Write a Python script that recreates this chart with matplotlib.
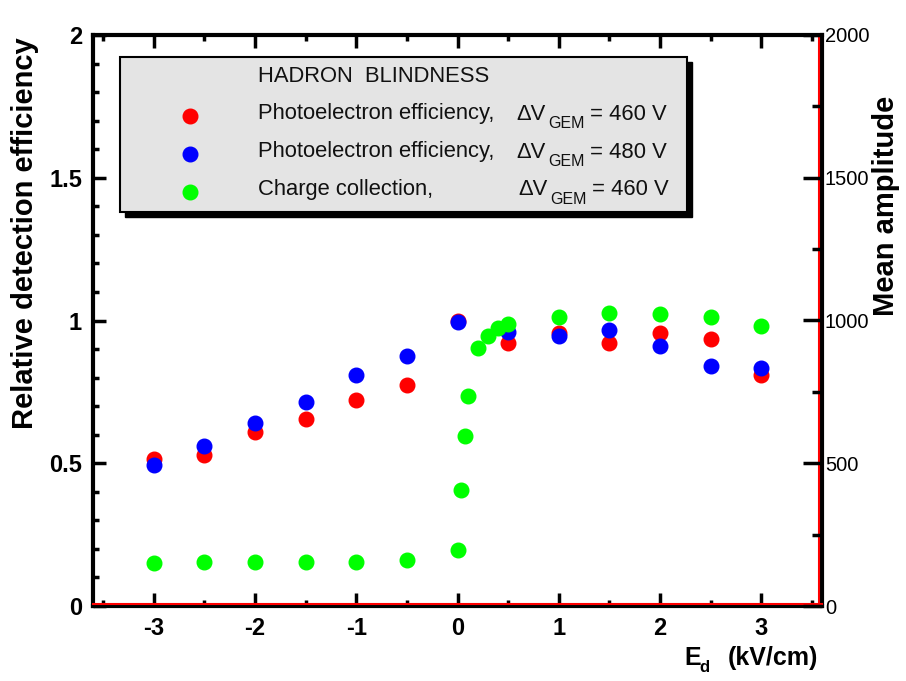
import matplotlib
matplotlib.use("Agg")
import matplotlib.pyplot as plt
from matplotlib.patches import Rectangle
from matplotlib.ticker import MultipleLocator, FixedLocator
from matplotlib import font_manager

fams = {f.name for f in font_manager.fontManager.ttflist}
NARROW = 'Liberation Sans Narrow' if 'Liberation Sans Narrow' in fams else 'Liberation Sans'
SANS = 'Liberation Sans'

# ---------------- data ----------------
ed_pe = [-3, -2.5, -2, -1.5, -1, -0.5, 0, 0.5, 1, 1.5, 2, 2.5, 3]
eff_460 = [0.515, 0.53, 0.61, 0.655, 0.72, 0.775, 1.0, 0.92, 0.955, 0.92, 0.955, 0.935, 0.81]
eff_480 = [0.495, 0.56, 0.64, 0.715, 0.81, 0.875, 0.995, 0.96, 0.945, 0.965, 0.91, 0.84, 0.835]

ed_cc = [-3, -2.5, -2, -1.5, -1, -0.5, 0, 0.03, 0.07, 0.1, 0.2, 0.3, 0.4, 0.5, 1, 1.5, 2, 2.5, 3]
amp_460 = [152, 155, 155, 155, 155, 160, 195, 405, 595, 735, 905, 945, 972, 988, 1013, 1025, 1023, 1011, 980]

legend_title = "HADRON  BLINDNESS"
legend_names = ["Photoelectron efficiency,", "Photoelectron efficiency,", "Charge collection,"]
legend_dv = ["= 460 V", "= 480 V", "= 460 V"]
colors = ["#ff0000", "#0000ff", "#00ff00"]

W, H = 906, 681
fig = plt.figure(figsize=(W / 100, H / 100), dpi=100)
L, R, T, B = 93, 822, 35, 606
ax = fig.add_axes([L / W, 1 - B / H, (R - L) / W, (B - T) / H])
ax2 = ax.twinx()

ms = 10.5
ax.plot(ed_pe, eff_460, 'o', color=colors[0], ms=ms, mec=colors[0], zorder=3)
ax.plot(ed_pe, eff_480, 'o', color=colors[1], ms=ms, mec=colors[1], zorder=4)
ax2.plot(ed_cc, amp_460, 'o', color=colors[2], ms=ms, mec=colors[2], zorder=5)

ax.set_xlim(-3.6, 3.6)
ax.set_ylim(0, 2)
ax2.set_ylim(0, 2000)

ax.xaxis.set_major_locator(MultipleLocator(1))
ax.xaxis.set_minor_locator(FixedLocator([-3.5, -2.5, -1.5, -0.5, 0.5, 1.5, 2.5, 3.5]))
ax.yaxis.set_major_locator(MultipleLocator(0.5))
ax.yaxis.set_minor_locator(MultipleLocator(0.1))
ax2.yaxis.set_major_locator(MultipleLocator(500))
ax2.yaxis.set_minor_locator(MultipleLocator(250))

ax.tick_params(axis='both', which='major', direction='in', length=9.5, width=2.5,
               top=True, right=False, labelsize=17, pad=8)
ax.tick_params(axis='both', which='minor', direction='in', length=4.5, width=2.5,
               top=True, right=False)
ax2.tick_params(axis='y', which='major', direction='in', length=14, width=2.5,
                labelsize=14.5, pad=2)
ax2.tick_params(axis='y', which='minor', direction='in', length=7, width=2.5)

ax.set_xticks([-3, -2, -1, 0, 1, 2, 3])
ax.set_xticklabels(['-3', '-2', '-1', '0', '1', '2', '3'])
ax.set_yticks([0, 0.5, 1, 1.5, 2])
ax.set_yticklabels(['0', '0.5', '1', '1.5', '2'])
for lab in ax.get_xticklabels() + ax.get_yticklabels():
    lab.set_fontfamily(NARROW)
    lab.set_fontweight('bold')
for lab in ax2.get_yticklabels():
    lab.set_fontfamily(SANS)

for sp in ax.spines.values():
    sp.set_linewidth(3)
for sp in ax2.spines.values():
    sp.set_visible(False)

# red axis lines (bottom & right)
ax.plot([0, 1], [0.004, 0.004], transform=ax.transAxes, color='red', lw=1.5,
        clip_on=False, zorder=6)
ax.plot([0.996, 0.996], [0, 1], transform=ax.transAxes, color='red', lw=1.5,
        clip_on=False, zorder=6)

# axis titles
fig.text(25 / W, 1 - 233 / H, "Relative detection efficiency", rotation=90,
         ha='center', va='center', fontsize=21, fontweight='bold', family=SANS)
fig.text(886 / W, 1 - 206 / H, "Mean amplitude", rotation=90,
         ha='center', va='center', fontsize=21, fontweight='bold', family=SANS)
fig.text(684 / W, 1 - 658 / H, "E", ha='left', va='center', fontsize=18,
         fontweight='bold', family=NARROW)
fig.text(699 / W, 1 - 668 / H, "d", ha='left', va='center', fontsize=12,
         fontweight='bold', family=NARROW)
fig.text(818 / W, 1 - 658 / H, "(kV/cm)", ha='right', va='center', fontsize=18,
         fontweight='bold', family=NARROW)

# legend box
def fx(x):
    return x / W
def fy(y):
    return 1 - y / H

bx0, by0, bx1, by1 = 120, 57, 687, 212
fig.patches.append(Rectangle((fx(bx0 + 5), fy(by1 + 5)), (bx1 - bx0) / W, (by1 - by0) / H,
                             transform=fig.transFigure, facecolor='black',
                             edgecolor='black', zorder=10))
fig.patches.append(Rectangle((fx(bx0), fy(by1)), (bx1 - bx0) / W, (by1 - by0) / H,
                             transform=fig.transFigure, facecolor='#e4e4e4',
                             edgecolor='black', lw=1.5, zorder=11))

tkw = dict(fontsize=15.8, family=NARROW, color='#111111', va='center', zorder=12)
fig.text(fx(258), fy(76), legend_title, ha='left', **tkw)
rows = [114, 152, 190]
for i, yy in enumerate(rows):
    fig.lines.append(plt.Line2D([fx(190)], [fy(yy + 2)], marker='o', ms=ms,
                                color=colors[i], mec=colors[i],
                                transform=fig.transFigure, zorder=12))
    fig.text(fx(258), fy(yy), legend_names[i], ha='left', **tkw)
    dx = 2 if i == 2 else 0
    fig.text(fx(516 + dx), fy(yy), "\u0394V", ha='left', **tkw)
    fig.text(fx(548 + dx), fy(yy + 9), "GEM", ha='left',
             **{**tkw, 'fontsize': 11.5})
    fig.text(fx(590 + dx), fy(yy), legend_dv[i], ha='left', **tkw)

fig.savefig("out.png", dpi=100)
